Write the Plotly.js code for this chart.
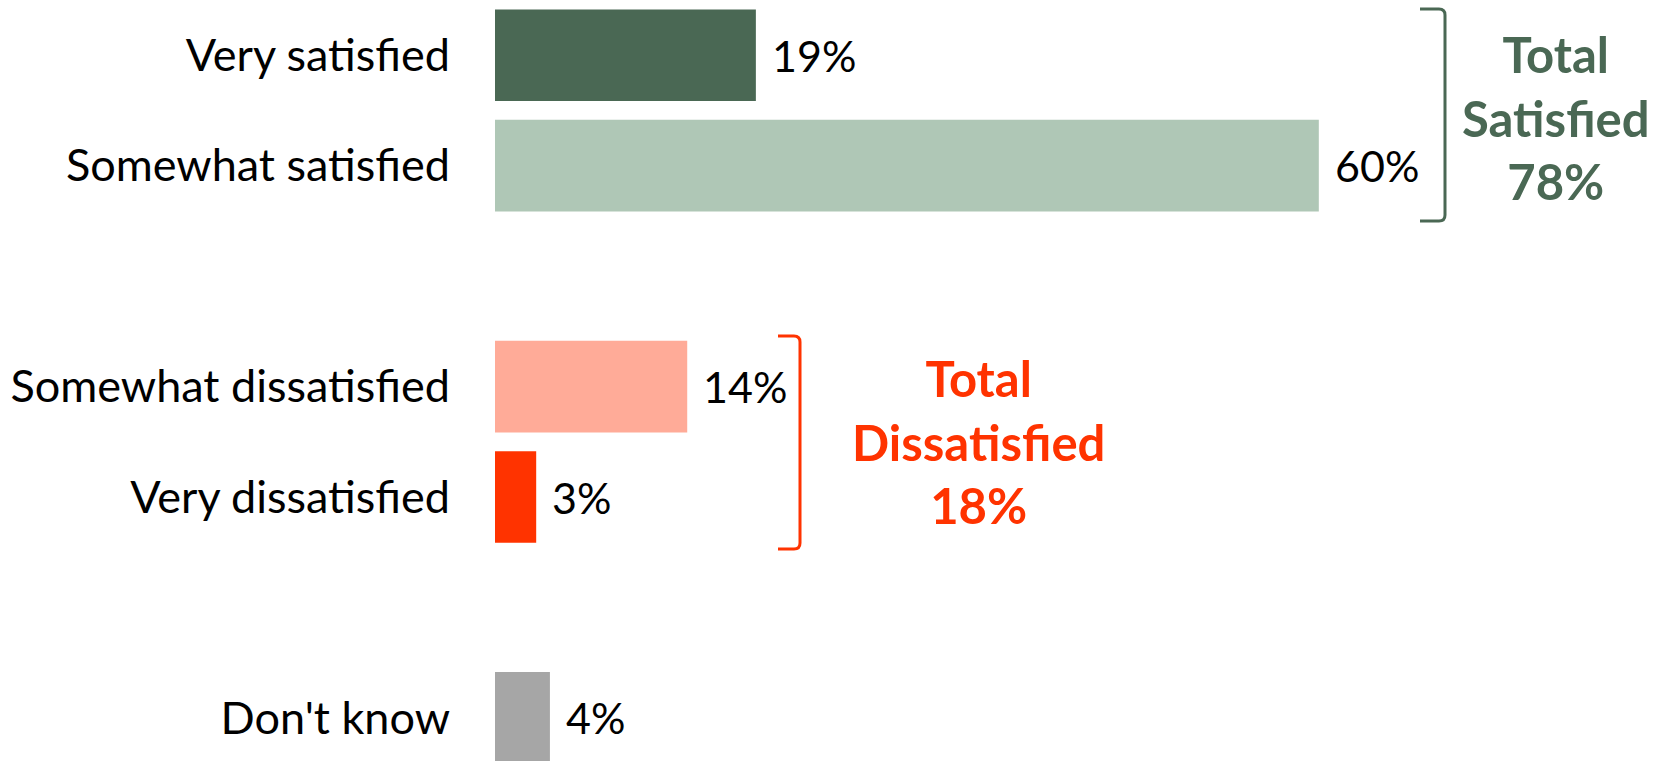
<!DOCTYPE html>
<html>
<head>
<meta charset="utf-8">
<script src="https://cdn.plot.ly/plotly-3.0.1.min.js"></script>
<style>
html,body{margin:0;padding:0;background:#fff;}
#chart{width:1667px;height:761px;}
</style>
</head>
<body>
<div id="chart"></div>
<script>
// ---- data ----
const categories = ["Very satisfied", "Somewhat satisfied", "Somewhat dissatisfied", "Very dissatisfied", "Don't know"];
const values = [19, 60, 14, 3, 4];
const barColors = ["#4a6854", "#afc7b6", "#ffab98", "#ff3300", "#a6a6a6"];
const groupLabels = ["Total<br>Satisfied<br>78%", "Total<br>Dissatisfied<br>18%"];
const groupColors = ["#4a6854", "#ff3300"];

// row layout: blank spacer rows between groups
const rowIndex = [0, 1, 3, 4, 6];

const FONT = "Lato, 'Open Sans', sans-serif";
const W = 1667, H = 761, ML = 495;
const PW = W - ML;
const px = x => (x - ML) / PW;
const py = y => 1 - y / H;

const trace = {
  type: "bar",
  orientation: "h",
  x: values,
  y: rowIndex,
  width: 0.83,
  marker: {color: barColors, line: {width: 0}},
  hoverinfo: "skip",
  cliponaxis: true
};

const annotations = values.map((v, i) => ({
  x: v, y: rowIndex[i], xref: "x", yref: "y",
  text: v + "%", showarrow: false,
  xanchor: "left", yanchor: "middle", xshift: 14,
  font: {family: FONT, size: 43, color: "#000"}
}));

annotations.push({
  x: px(1556), y: py(117), xref: "paper", yref: "paper",
  xanchor: "center", yanchor: "middle",
  text: "<b>" + groupLabels[0] + "</b>", showarrow: false, align: "center",
  font: {family: FONT, size: 49, color: groupColors[0]}
});
annotations.push({
  x: px(978), y: py(441), xref: "paper", yref: "paper",
  xanchor: "center", yanchor: "middle",
  text: "<b>" + groupLabels[1] + "</b>", showarrow: false, align: "center",
  font: {family: FONT, size: 49, color: groupColors[1]}
});

function bracket(xTick, xLine, yTop, yBot, color) {
  const r = 6;
  return {
    type: "path", xref: "paper", yref: "paper", layer: "above",
    path: `M ${px(xTick)},${py(yTop)} L ${px(xLine-r)},${py(yTop)} Q ${px(xLine)},${py(yTop)} ${px(xLine)},${py(yTop+r)} L ${px(xLine)},${py(yBot-r)} Q ${px(xLine)},${py(yBot)} ${px(xLine-r)},${py(yBot)} L ${px(xTick)},${py(yBot)}`,
    line: {color: color, width: 3}
  };
}

const layout = {
  width: W, height: H,
  margin: {l: ML, r: 0, t: 0, b: 0, pad: 0},
  paper_bgcolor: "#fff", plot_bgcolor: "#fff",
  showlegend: false,
  xaxis: {range: [0, 85.36], visible: false, fixedrange: true},
  yaxis: {
    range: [6.39, -0.5],
    tickmode: "array", tickvals: rowIndex, ticktext: categories,
    ticks: "", showline: false, showgrid: false, zeroline: false,
    ticklabelstandoff: 44,
    tickfont: {family: FONT, size: 45, color: "#000"},
    automargin: false, fixedrange: true
  },
  annotations: annotations,
  shapes: [
    bracket(1420, 1445, 9, 221, groupColors[0]),
    bracket(778, 800, 336, 549, groupColors[1])
  ]
};

Plotly.newPlot("chart", [trace], layout, {displayModeBar: false, staticPlot: true});
</script>
</body>
</html>
